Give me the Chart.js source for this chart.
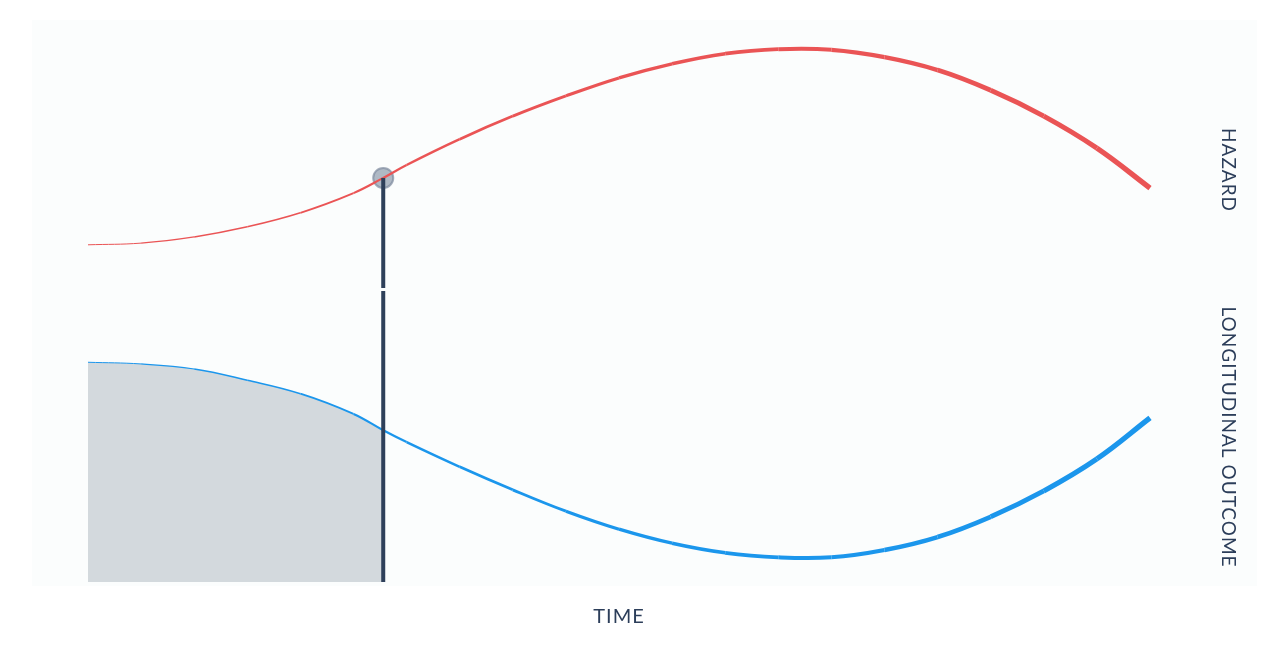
<!DOCTYPE html>
<html>
<head>
<meta charset="utf-8">
<script src="https://cdn.jsdelivr.net/npm/chart.js@4/dist/chart.umd.min.js"></script>
<style>
  html, body { margin: 0; padding: 0; background: #ffffff; }
  #wrap { width: 1280px; height: 648px; }
</style>
</head>
<body>
<div id="wrap"><canvas id="grafico" width="1280" height="648"></canvas></div>
<script>
// tiempos y valores
var tiempos = [0, 0.5, 1, 1.5, 2, 2.5, 2.78, 3, 3.5, 4, 4.5, 5, 5.5, 6, 6.5, 7, 7.5, 8, 8.5, 9, 9.5, 10];
var riesgo = [60.0, 60.3, 61.4, 63.2, 65.7, 69.2, 71.9, 74.2, 78.8, 82.9, 86.5, 89.7, 92.2, 94.0, 94.8, 94.7, 93.4, 91.1, 87.5, 82.9, 77.2, 70.1];
var longitudinal = [39.1, 38.8, 37.9, 35.9, 33.5, 29.9, 27.0, 24.9, 20.5, 16.4, 12.6, 9.4, 6.9, 5.2, 4.4, 4.4, 5.7, 8.0, 11.6, 16.2, 21.9, 29.2];
var tiempoMarca = 2.78;
var corteMarca = [52.3, 51.8]; // pequeño hueco en la linea vertical

var etiquetas = { x: 'TIME', riesgo: 'HAZARD', longitudinal: 'LONGITUDINAL OUTCOME' };
var centroEtiquetas = { riesgo: 73.3, longitudinal: 25.8 };

function puntos(valores, hasta) {
    var out = [];
    for (var i = 0; i < tiempos.length; i++) {
        if (hasta === undefined || tiempos[i] <= hasta) out.push({ x: tiempos[i], y: valores[i] });
    }
    return out;
}

function anchoSegmento(ctx) {
    var n = tiempos.length - 1;
    return 1 + 4.5 * (ctx.p0DataIndex / n);
}

var idxMarca = tiempos.indexOf(tiempoMarca);

function textoVertical(c, texto, x, y) {
    c.save();
    c.fillStyle = '#2c3e5a';
    c.textAlign = 'center';
    c.textBaseline = 'middle';
    c.font = '19px Lato';
    c.letterSpacing = '1px';
    c.translate(x, y);
    c.rotate(Math.PI / 2);
    c.fillText(texto, 0, 0);
    c.restore();
}

var fondo = {
    id: 'fondo',
    beforeDraw: function (chart) {
        var c = chart.ctx;
        c.save();
        c.fillStyle = '#fbfdfd';
        c.fillRect(32, 20, 1225, 566);
        c.restore();
    },
    afterDraw: function (chart) {
        var c = chart.ctx;
        var a = chart.chartArea;
        var ys = chart.scales.y;
        c.save();
        c.fillStyle = '#2c3e5a';
        c.textAlign = 'center';
        c.textBaseline = 'middle';
        c.font = '20px Lato';
        c.letterSpacing = '1px';
        c.fillText(etiquetas.x, (a.left + a.right) / 2, 617);
        c.restore();
        textoVertical(c, etiquetas.riesgo, 1228, ys.getPixelForValue(centroEtiquetas.riesgo));
        textoVertical(c, etiquetas.longitudinal, 1228, ys.getPixelForValue(centroEtiquetas.longitudinal));
    }
};

new Chart(document.getElementById('grafico').getContext('2d'), {
    type: 'line',
    data: {
        datasets: [
            {
                data: puntos(longitudinal, tiempoMarca),
                borderWidth: 0,
                backgroundColor: '#d3d9dd',
                fill: 'origin',
                pointRadius: 0,
                tension: 0.4,
                order: 10
            },
            {
                data: puntos(longitudinal),
                borderColor: '#1b96ec',
                fill: false,
                pointRadius: 0,
                tension: 0.4,
                segment: { borderWidth: anchoSegmento },
                order: 5
            },
            {
                type: 'scatter',
                data: [{ x: tiempoMarca, y: riesgo[idxMarca] }],
                pointRadius: 10,
                backgroundColor: 'rgba(150,161,177,0.75)',
                borderColor: 'rgba(125,138,158,0.7)',
                borderWidth: 2,
                order: 6
            },
            {
                data: puntos(riesgo),
                borderColor: '#ea5455',
                fill: false,
                pointRadius: 0,
                tension: 0.4,
                segment: { borderWidth: anchoSegmento },
                order: 4
            },
            {
                data: [{ x: tiempoMarca, y: riesgo[idxMarca] }, { x: tiempoMarca, y: corteMarca[0] }],
                borderColor: '#2e405a',
                borderWidth: 4,
                pointRadius: 0,
                order: 1
            },
            {
                data: [{ x: tiempoMarca, y: corteMarca[1] }, { x: tiempoMarca, y: 0 }],
                borderColor: '#2e405a',
                borderWidth: 4,
                pointRadius: 0,
                order: 1
            }
        ]
    },
    options: {
        responsive: false,
        animation: false,
        clip: false,
        layout: { padding: { left: 88, right: 130, top: 20, bottom: 66 } },
        scales: {
            x: { type: 'linear', min: 0, max: 10, display: false },
            y: { min: 0, max: 100, display: false }
        },
        plugins: {
            legend: { display: false },
            tooltip: { enabled: false }
        }
    },
    plugins: [fondo]
});
</script>
</body>
</html>
